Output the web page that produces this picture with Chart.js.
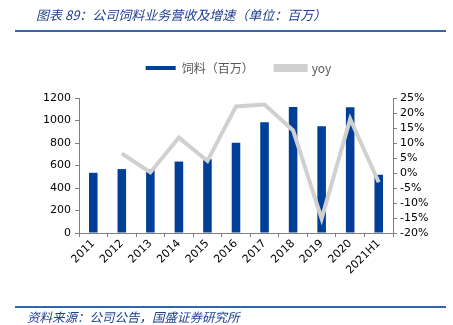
<!DOCTYPE html>
<html>
<head>
<meta charset="utf-8">
<script src="https://cdn.jsdelivr.net/npm/chart.js@4.4.0/dist/chart.umd.min.js"></script>
<style>
  body { margin: 0; background: #fff; }
  #wrap { position: relative; width: 453px; height: 325px; overflow: hidden; }
  #myChart { position: absolute; left: 0; top: 0; }
  .title {
    position: absolute; left: 36px; top: 5px;
    font: italic 13px "Noto Sans CJK SC", sans-serif; color: #1F3F8F;
  }
  .rule { position: absolute; left: 15px; width: 431px; height: 2px; background: #3464AA; }
  .source {
    position: absolute; left: 27px; top: 307px;
    font: italic 12.5px "Noto Sans CJK SC", sans-serif; color: #1F3F8F;
  }
</style>
</head>
<body>
<div id="wrap">
  <canvas id="myChart" width="453" height="325"></canvas>
  <div class="title">图表 89：公司饲料业务营收及增速（单位：百万）</div>
  <div class="rule" style="top:30px"></div>
  <div class="rule" style="top:306px"></div>
  <div class="source">资料来源：公司公告，国盛证券研究所</div>
</div>
<script>
// chart data
const years = ['2011', '2012', '2013', '2014', '2015', '2016', '2017', '2018', '2019', '2020', '2021H1'];
const feed = [535, 568, 565, 635, 656, 803, 985, 1120, 950, 1118, 518];
const yoy = [null, 6.5, 0.2, 11.8, 4.0, 22.2, 22.8, 14.2, -15.2, 18.0, -3.1];

const tickFont = {family: 'DejaVu Sans', size: 11};

let ctx = document.getElementById('myChart').getContext('2d');

let chart_1 = new Chart(ctx,
{
    type: 'bar',
    data:
    {
        labels: years,
        datasets:
        [{
            type: 'bar',
            label: '饲料（百万）',
            data: feed,
            backgroundColor: '#003F98',
            borderWidth: 0,
            barPercentage: 0.3,
            categoryPercentage: 1,
            yAxisID: 'y',
            order: 2
        },
        {
            type: 'line',
            label: 'yoy',
            data: yoy,
            borderColor: '#D0D0D0',
            backgroundColor: '#D0D0D0',
            borderWidth: 4,
            pointRadius: 0,
            tension: 0,
            yAxisID: 'y1',
            order: 1
        }]
    },
    options:
    {
        responsive: false,
        animation: false,
        layout: {padding: {top: 40, left: 24, right: 0, bottom: 0}},
        plugins:
        {
            legend:
            {
                position: 'top',
                labels:
                {
                    boxWidth: 30,
                    boxHeight: 4,
                    padding: 22,
                    color: '#595959',
                    font: {family: 'Noto Sans CJK SC', size: 12},
                    sort: function(a, b) { return a.datasetIndex - b.datasetIndex; }
                }
            },
            // empty subtitle used as a gap between legend and plot
            subtitle:
            {
                display: true,
                text: '',
                weight: 500,
                padding: 0,
                font: {size: 10, lineHeight: 1.4}
            },
            tooltip: {enabled: false}
        },
        scales:
        {
            x:
            {
                grid: {drawOnChartArea: false, tickLength: 4, color: '#808080'},
                border: {color: '#808080'},
                ticks: {color: '#000', font: tickFont, minRotation: 45, maxRotation: 45, padding: 0},
                afterFit: function(s) { s.height = 92; }
            },
            y:
            {
                position: 'left',
                min: 0, max: 1200,
                grid: {drawOnChartArea: false, tickLength: 4, color: '#808080'},
                border: {color: '#808080'},
                ticks: {stepSize: 200, color: '#000', font: tickFont, padding: 4,
                        callback: function(v) { return v; }},
                afterFit: function(s) { s.width = 55; }
            },
            y1:
            {
                position: 'right',
                min: -20, max: 25,
                grid: {drawOnChartArea: false, tickLength: 4, color: '#808080'},
                border: {color: '#808080'},
                ticks: {stepSize: 5, autoSkip: false, color: '#000', font: tickFont, padding: 3,
                        callback: function(v) { return v + '%'; }},
                afterFit: function(s) { s.width = 60; }
            }
        }
    }
});
</script>
</body>
</html>
